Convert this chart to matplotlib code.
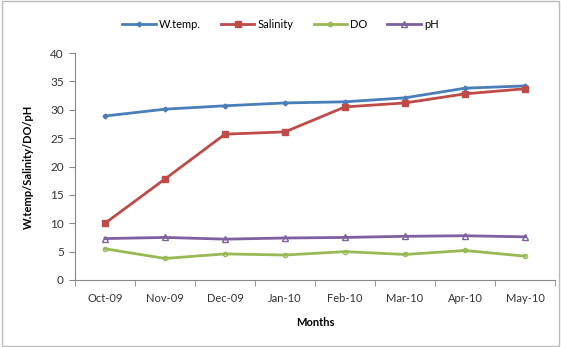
# monthly water quality parameters, Oct-09 to May-10
import matplotlib.pyplot as plt
from matplotlib.patches import Rectangle

plt.rcParams['font.family'] = ['Lato', 'DejaVu Sans']

months = ["Oct-09", "Nov-09", "Dec-09", "Jan-10", "Feb-10", "Mar-10", "Apr-10", "May-10"]
w_temp = [28.9, 30.1, 30.7, 31.2, 31.4, 32.1, 33.8, 34.2]
salinity = [10.0, 17.8, 25.7, 26.1, 30.5, 31.2, 32.8, 33.7]
do = [5.5, 3.8, 4.6, 4.4, 5.0, 4.5, 5.2, 4.2]
ph = [7.3, 7.5, 7.2, 7.4, 7.5, 7.7, 7.8, 7.6]

x = range(len(months))

fig = plt.figure(figsize=(5.61, 3.47), dpi=100)
ax = fig.add_axes([75 / 561, (347 - 280) / 347, 480 / 561, 227 / 347])

ax.plot(x, w_temp, color="#4a7ebb", lw=2, marker="D", ms=2.5, label="W.temp.")
ax.plot(x, salinity, color="#be4b48", lw=2, marker="s", ms=5, label="Salinity")
ax.plot(x, do, color="#98b954", lw=2, marker="o", ms=3, mfc="none", label="DO")
ax.plot(x, ph, color="#7d60a0", lw=2, marker="^", ms=4, mfc="none", label="pH")

ax.set_xlim(-0.5, len(months) - 0.5)
ax.set_ylim(0, 40)
ax.set_yticks(range(0, 41, 5))
ax.set_xticks(list(x))
ax.set_xticklabels(months)
ax.set_xticks([i + 0.5 for i in range(-1, len(months))], minor=True)
ax.tick_params(axis="x", which="major", length=0, pad=9, labelsize=8, colors="#333333")
ax.tick_params(axis="x", which="minor", length=4, color="#888888")
ax.tick_params(axis="y", length=4, color="#888888", labelsize=8.5, labelcolor="#333333", pad=4)

for side in ["top", "right"]:
    ax.spines[side].set_visible(False)
for side in ["left", "bottom"]:
    ax.spines[side].set_color("#888888")

ax.set_xlabel("Months", fontsize=8, fontweight="bold", labelpad=10)
ax.set_ylabel("W.temp/Salinity/DO/pH", fontsize=8, fontweight="bold", labelpad=12)

fig.legend(loc="upper center", bbox_to_anchor=(0.5, 0.975), ncol=4, frameon=False,
           fontsize=8, handlelength=3, columnspacing=1.8, handletextpad=0.3)

# thin frame around the whole chart
fig.patches.append(Rectangle((0.003, 0.003), 0.994, 0.994, transform=fig.transFigure,
                             fill=False, edgecolor="#bbbbbb", lw=1))

plt.savefig("out.png", dpi=100)
